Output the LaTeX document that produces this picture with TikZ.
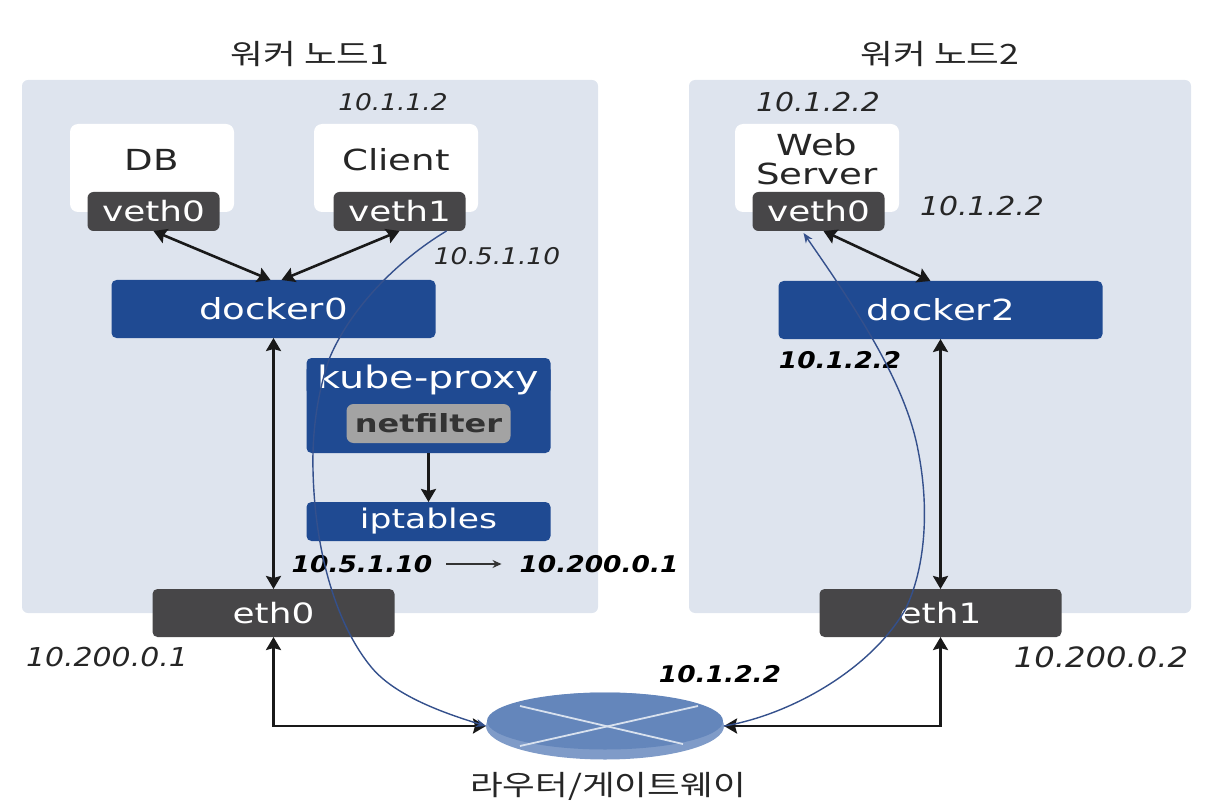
\documentclass[tikz,border=0pt]{standalone}
\usepackage{fontspec}
\setsansfont{DejaVu Sans}
\newfontfamily\krfont[FakeStretch=1.27]{Noto Sans CJK KR}
\newfontfamily\wideFont[FakeStretch=1.28]{DejaVu Sans}
\newfontfamily\addrFont[FakeStretch=1.15]{DejaVu Sans}
\usetikzlibrary{shapes.geometric,arrows.meta,positioning,calc}
\definecolor{panelBlue}{HTML}{DEE4EE}
\definecolor{bridgeBlue}{HTML}{1F4A92}
\definecolor{portGray}{HTML}{474648}
\definecolor{filterGray}{HTML}{A3A3A3}
\definecolor{routerBlue}{HTML}{6486BB}
\definecolor{routerRimBlue}{HTML}{7F9BC8}
\definecolor{routeBlue}{HTML}{34508C}

\begin{document}
\begin{tikzpicture}[
    x=1pt, y=-1pt,
    every node/.style={outer sep=0pt, inner sep=0pt},
    panelNode/.style={
        rectangle, rounded corners=6pt, fill=panelBlue, minimum height=533pt
    },
    hostNode/.style={
        rectangle, rounded corners=8pt, fill=white, minimum width=164pt, minimum height=88pt,
        font=\wideFont\fontsize{29}{34}\selectfont, align=center, text=black!85
    },
    portNode/.style={
        rectangle, rounded corners=6pt, fill=portGray, text=white, minimum width=132pt,
        minimum height=39pt, font=\wideFont\fontsize{28}{30}\selectfont
    },
    bridgeNode/.style={
        rectangle, rounded corners=5pt, fill=bridgeBlue, text=white, minimum width=324pt,
        minimum height=58pt, font=\wideFont\fontsize{29}{32}\selectfont
    },
    proxyNode/.style={
        rectangle, rounded corners=5pt, fill=bridgeBlue, text=white, minimum width=244pt,
        font=\wideFont\fontsize{29}{32}\selectfont
    },
    ethNode/.style={
        rectangle, rounded corners=5pt, fill=portGray, text=white, minimum width=242pt,
        minimum height=48pt, font=\wideFont\fontsize{28}{30}\selectfont
    },
    titleText/.style={font=\krfont\fontsize{28}{32}\selectfont, text=black!85},
    addrText/.style={font=\addrFont\itshape\fontsize{23}{26}\selectfont, text=black!85},
    addrWide/.style={font=\addrFont\itshape\fontsize{26}{28}\selectfont, text=black!85},
    addrBold/.style={font=\addrFont\bfseries\itshape\fontsize{23}{26}\selectfont, text=black},
    linkArrow/.style={
        {Stealth[length=13pt, width=15pt, inset=2pt]}-{Stealth[length=13pt, width=15pt, inset=2pt]},
        line width=2.6pt, draw=black!90
    },
    oneArrow/.style={
        -{Stealth[length=13pt, width=15pt, inset=2pt]}, line width=2.6pt, draw=black!90
    },
    routeArrow/.style={
        -{Stealth[length=10pt, width=8pt]}, line width=1.4pt, draw=routeBlue
    }
]

\useasboundingbox (0,0) rectangle (1210,802);

% Panels
\node[panelNode, minimum width=576pt, anchor=north west] (panelOne) at (22,80) {};
\node[panelNode, minimum width=502pt, right=91pt of panelOne] (panelTwo) {};
\node[titleText, above=13pt of panelOne] (titleOne) {워커 노드1};
\node[titleText, above=13pt of panelTwo] (titleTwo) {워커 노드2};

% Worker 1
\node[hostNode, below right=44pt and 48pt of panelOne.north west] (dbBox) {\raisebox{17pt}{DB}};
\node[hostNode, right=80pt of dbBox] (clientBox) {\raisebox{17pt}{Client}};
\node[portNode, below=-20pt of dbBox, xshift=1.5pt] (vethDb) {veth0};
\node[portNode, below=-20pt of clientBox, xshift=3.5pt] (vethClient) {veth1};
\node[bridgeNode, below=49pt of vethDb, xshift=120pt] (dockerZero) {docker0};
\node[proxyNode, minimum height=95pt, below=20pt of dockerZero, xshift=155pt] (kubeProxy) {};
\node[proxyNode, font=\wideFont\fontsize{31}{34}\selectfont, below=7pt of kubeProxy.north] (kubeLabel) {kube-proxy};
\node[rectangle, rounded corners=7pt, fill=filterGray, text=black!80, minimum width=164pt,
    minimum height=39pt, font=\wideFont\bfseries\fontsize{25}{28}\selectfont,
    above=10pt of kubeProxy.south] (netFilter) {netfilter};
\node[proxyNode, font=\wideFont\fontsize{27}{30}\selectfont, minimum height=39pt, below=49pt of kubeProxy] (ipTables) {iptables};
\node[ethNode, below=251pt of dockerZero] (ethZero) {eth0};

% Worker 2
\node[hostNode, below right=44pt and 46pt of panelTwo.north west] (webBox) {\raisebox{18pt}{\shortstack{Web\\[5pt]Server}}};
\node[portNode, below=-20pt of webBox, xshift=1.5pt] (vethWeb) {veth0};
\node[bridgeNode, below=50pt of vethWeb, xshift=122pt] (dockerTwo) {docker2};
\node[ethNode, below=250pt of dockerTwo] (ethOne) {eth1};

% Router
\node[ellipse, fill=routerRimBlue, minimum width=238pt, minimum height=67pt]
    (routerRim) at ($(ethZero.south)!.5!(ethOne.south)+(-2,89)$) {};
\node[ellipse, fill=routerBlue, minimum width=236pt, minimum height=57pt,
    above=-57pt of routerRim] (router) {};
\draw[white!75!routerBlue, line width=1.8pt] ($(router)+(-85,-15)$) -- ($(router)+(78,23)$);
\draw[white!75!routerBlue, line width=1.8pt] ($(router)+(93,-15)$) -- ($(router)+(-85,25)$);
\node[titleText, below=13pt of routerRim, xshift=3pt] (routerLabel) {라우터/게이트웨이};

% Addresses
\node[addrText] (ipClient) at (393,102) {10.1.1.2};
\node[addrText] (ipVeth) at (497,256) {10.5.1.10};
\node[addrWide] (ipWebTop) at (818,102) {10.1.2.2};
\node[addrWide] (ipWebSide) at (982,206) {10.1.2.2};
\node[addrBold] (ipDocker) at (840,360) {10.1.2.2};
\node[addrBold] (ipSrc) at (362,564) {10.5.1.10};
\node[addrBold] (ipDst) at (599,564) {10.200.0.1};
\node[addrWide] (ipEthZero) at (107,657) {10.200.0.1};
\node[addrWide, font=\addrFont\itshape\fontsize{28}{30}\selectfont] (ipEthOne) at (1101,657) {10.200.0.2};
\node[addrBold] (ipRouter) at (720,674) {10.1.2.2};

% Links
\draw[linkArrow] (vethDb.south) -- ($(dockerZero.north)+(-3,0)$);
\draw[linkArrow] (vethClient.south) -- ($(dockerZero.north)+(8,0)$);
\draw[linkArrow] (dockerZero) -- (ethZero);
\draw[linkArrow] (ethZero.south) |- (routerRim.west);
\draw[linkArrow] ($(vethWeb.south)+(5,0)$) -- ($(dockerTwo.north)+(-10,0)$);
\draw[linkArrow] (dockerTwo) -- (ethOne);
\draw[linkArrow] (ethOne.south) |- (routerRim.east);
\draw[oneArrow] (kubeProxy) -- (ipTables);
\draw[-{Stealth[length=9pt, width=8pt]}, line width=1.2pt, draw=black!80, shorten <=14pt, shorten >=18pt] (ipSrc) -- (ipDst);

% Traffic path
\draw[routeArrow] ($(vethClient.south east)+(-19,0)$) .. controls (395,262) and (350,310) .. (330,357)
    .. controls (318,390) and (312,430) .. (313,470)
    .. controls (315,560) and (340,630) .. (372,668)
    .. controls (395,695) and (440,712) .. (routerRim.west);
\draw[routeArrow] (routerRim.east) .. controls (790,715) and (870,670) .. (905,610)
    .. controls (925,570) and (930,510) .. (918,450)
    .. controls (905,380) and (850,300) .. ($(vethWeb.south)+(-15,2)$);

\end{tikzpicture}
\end{document}
